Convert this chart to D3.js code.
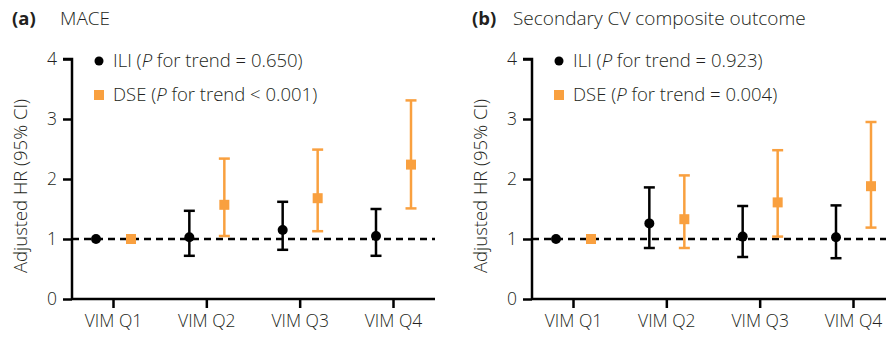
<!DOCTYPE html>
<meta charset="utf-8">
<script src="https://d3js.org/d3.v7.min.js"></script>
<style>
  body { margin: 0; background: #fff; }
  text { font-family: "Open Sans", "Noto Sans", sans-serif; fill: #231f20; font-weight: 300; }
</style>
<svg id="chart"></svg>
<script>

// categories and tick labels
var quartiles = ["VIM Q1", "VIM Q2", "VIM Q3", "VIM Q4"];
var yTicks = [0, 1, 2, 3, 4];

// panel (a) MACE
var maceIli = [1.00, 1.03, 1.15, 1.05];
var maceIliLo = [1.00, 0.72, 0.82, 0.72];
var maceIliHi = [1.00, 1.47, 1.62, 1.50];
var maceDse = [1.00, 1.57, 1.68, 2.24];
var maceDseLo = [1.00, 1.05, 1.13, 1.51];
var maceDseHi = [1.00, 2.34, 2.49, 3.31];

// panel (b) secondary CV composite outcome
var cvIli = [1.00, 1.26, 1.04, 1.03];
var cvIliLo = [1.00, 0.85, 0.70, 0.68];
var cvIliHi = [1.00, 1.86, 1.55, 1.56];
var cvDse = [1.00, 1.33, 1.61, 1.88];
var cvDseLo = [1.00, 0.85, 1.04, 1.19];
var cvDseHi = [1.00, 2.06, 2.48, 2.95];

var panels = [
  { tag: "(a)", title: "MACE", ox: 72, titleX: 60,
    iliLabel: " for trend = 0.650)", dseLabel: " for trend < 0.001)",
    ili: [maceIli, maceIliLo, maceIliHi], dse: [maceDse, maceDseLo, maceDseHi] },
  { tag: "(b)", title: "Secondary CV composite outcome", ox: 532, titleX: 513,
    iliLabel: " for trend = 0.923)", dseLabel: " for trend = 0.004)",
    ili: [cvIli, cvIliLo, cvIliHi], dse: [cvDse, cvDseLo, cvDseHi] }
];

var width = 886, height = 337;
var orange = "#f9a03f";

var svg = d3.select("#chart")
  .attr("width", width)
  .attr("height", height);

var y = d3.scaleLinear().domain([0, 4]).range([299, 59]);

panels.forEach(function(p) {
  var g = svg.append("g").attr("transform", "translate(" + p.ox + ",0)");

  var x = d3.scalePoint().domain(quartiles).range([41, 321]);

  // title
  svg.append("text").attr("x", p.ox - 60).attr("y", 25)
    .style("font-size", "18.5px").style("font-weight", "bold").text(p.tag);
  svg.append("text").attr("x", p.titleX).attr("y", 25).style("font-size", "19px").text(p.title);

  // y label
  g.append("text")
    .attr("transform", "translate(-45,186) rotate(-90)")
    .attr("text-anchor", "middle")
    .style("font-size", "18.5px")
    .text("Adjusted HR (95% CI)");

  // axes
  var yAxis = g.append("g").call(d3.axisLeft(y).tickValues(yTicks).tickFormat(d3.format("d")).tickSize(9).tickPadding(6));
  var xAxis = g.append("g").attr("transform", "translate(0,299)")
    .call(d3.axisBottom(x).tickSize(9).tickPadding(7).tickSizeOuter(0));
  xAxis.select(".domain").attr("d", "M0,0H" + (363));
  [yAxis, xAxis].forEach(function(a) {
    a.select(".domain").attr("stroke", "#000").attr("stroke-width", 2.5);
    a.selectAll(".tick line").attr("stroke", "#000").attr("stroke-width", 2.5);
    a.selectAll(".tick text").style("font-size", "17.5px").attr("fill", "#231f20");
  });
  yAxis.select(".domain").attr("d", "M-9," + y(4) + "H0V" + y(0));

  // reference line at HR = 1
  g.append("line")
    .attr("x1", 0).attr("x2", 363)
    .attr("y1", y(1)).attr("y2", y(1))
    .attr("stroke", "#000").attr("stroke-width", 2.5)
    .attr("stroke-dasharray", "7,5");

  function series(vals, dx, color, isSquare) {
    var gs = g.append("g");
    quartiles.forEach(function(q, i) {
      var cx = x(q) + dx;
      if (vals[2][i] !== vals[1][i]) {
        gs.append("line").attr("x1", cx).attr("x2", cx)
          .attr("y1", y(vals[1][i])).attr("y2", y(vals[2][i]))
          .attr("stroke", color).attr("stroke-width", 2.5);
        [vals[1][i], vals[2][i]].forEach(function(v) {
          gs.append("line").attr("x1", cx - 5.5).attr("x2", cx + 5.5)
            .attr("y1", y(v)).attr("y2", y(v))
            .attr("stroke", color).attr("stroke-width", 2.5);
        });
      }
      if (isSquare) {
        gs.append("rect").attr("x", cx - 5).attr("y", y(vals[0][i]) - 5)
          .attr("width", 10).attr("height", 10).attr("fill", color);
      } else {
        gs.append("circle").attr("cx", cx).attr("cy", y(vals[0][i]))
          .attr("r", 5).attr("fill", color);
      }
    });
  }
  series(p.ili, -17, "#000", false);
  series(p.dse, 18, orange, true);

  // legend
  g.append("circle").attr("cx", 27).attr("cy", 61).attr("r", 4.5).attr("fill", "#000");
  var l1 = g.append("text").attr("x", 41).attr("y", 67).style("font-size", "18.5px");
  l1.append("tspan").text("ILI (");
  l1.append("tspan").style("font-style", "italic").text("P");
  l1.append("tspan").text(p.iliLabel);

  g.append("rect").attr("x", 22).attr("y", 90).attr("width", 10).attr("height", 10).attr("fill", orange);
  var l2 = g.append("text").attr("x", 41).attr("y", 101).style("font-size", "18.5px");
  l2.append("tspan").text("DSE (");
  l2.append("tspan").style("font-style", "italic").text("P");
  l2.append("tspan").text(p.dseLabel);
});

</script>
